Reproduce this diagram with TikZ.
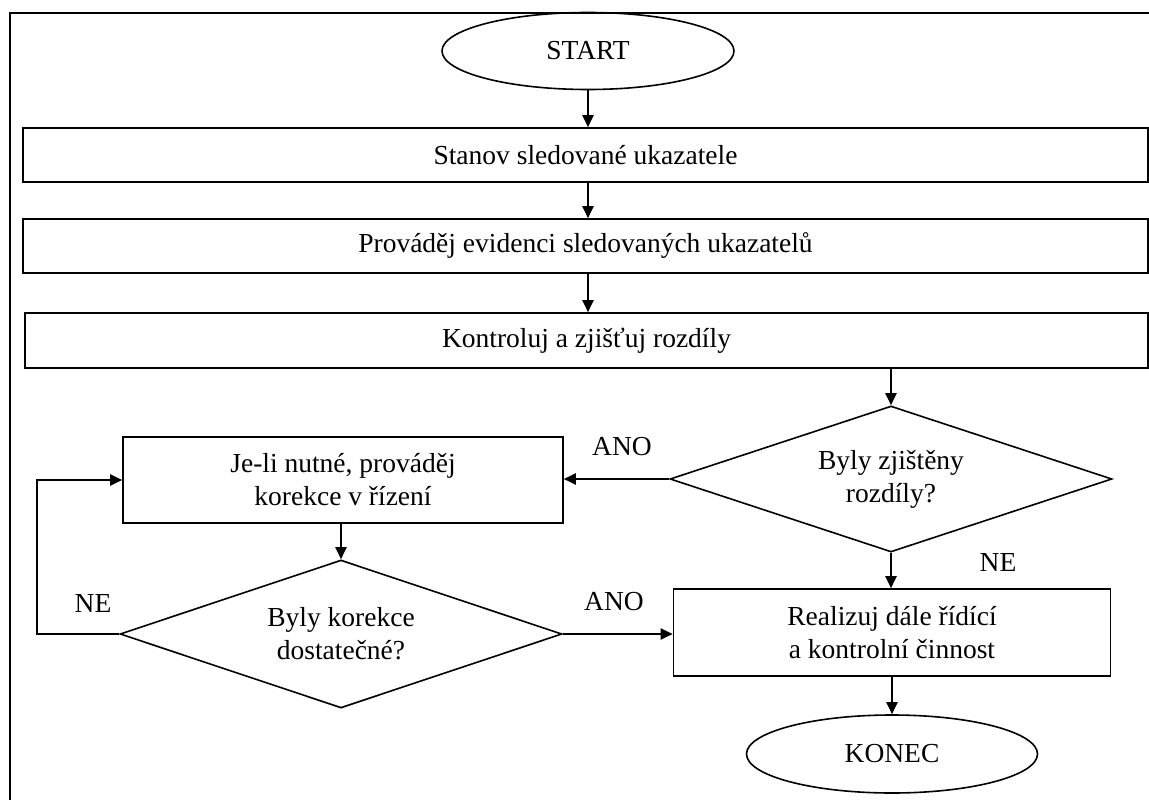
\documentclass[tikz,border=0pt]{standalone}
\usepackage{fontspec}
\setmainfont{Liberation Serif}
\usetikzlibrary{shapes.geometric,arrows.meta,calc}
\begin{document}
\begin{tikzpicture}[x=1pt,y=-1pt,
  every node/.style={font=\fontsize{27.5}{33}\selectfont},
  box/.style={draw,line width=1.6pt,rectangle,inner sep=0pt,align=center},
  term/.style={draw,line width=1.6pt,ellipse,inner sep=0pt},
  dec/.style={draw,line width=1.6pt,diamond,shape aspect=3,inner sep=0pt,align=center},
  arr/.style={line width=2pt,-{Triangle[length=12pt,width=11pt]}},
  lbl/.style={inner sep=0pt}]
\useasboundingbox (0,0) rectangle (1149,800);
\draw[line width=2.6pt] (10,800) -- (10,13) -- (1149,13);

\node[term,minimum width=292pt,minimum height=77pt] (start) at (588,51) {START};
\node[box,minimum width=1125pt,minimum height=54pt] (b1) at (585.5,155) {Stanov sledované ukazatele};
\node[box,minimum width=1125pt,minimum height=54pt] (b2) at (585.5,246) {Prováděj evidenci sledovaných ukazatelů};
\node[box,minimum width=1123pt,minimum height=55pt] (b3) at (586.5,340.5) {Kontroluj a zjišťuj rozdíly};
\node[dec,minimum width=442pt,minimum height=146pt] (d1) at (891,479) {Byly zjištěny\\rozdíly?};
\node[box,minimum width=440pt,minimum height=86pt] (je) at (343,480) {Je-li nutné, prováděj\\korekce v řízení};
\node[dec,minimum width=442pt,minimum height=148pt] (d2) at (341,634) {Byly korekce\\dostatečné?};
\node[box,minimum width=437pt,minimum height=87pt] (re) at (892,632.5) {Realizuj dále řídící\\a kontrolní činnost};
\node[term,minimum width=291pt,minimum height=78pt] (konec) at (892,754) {KONEC};

\node[lbl] (ano1) at (622,447) {ANO};
\node[lbl] (ne1) at (998,562) {NE};
\node[lbl] (ne2) at (93,603) {NE};
\node[lbl] (ano2) at (614,602) {ANO};

\coordinate (lp) at (37,0);

\draw[arr] (start.south) -- (start.south |- b1.north);
\draw[arr] (b1.south -| start) -- (b2.north -| start);
\draw[arr] (b2.south -| start) -- (b3.north -| start);
\draw[arr] (b3.south -| d1) -- (d1.north);
\draw[arr] (d1.west) -- (d1.west -| je.east);
\draw[arr] (d2.north |- je.south) -- (d2.north);
\draw[arr] (d1.south) -- (d1.south |- re.north);
\draw[arr] (d2.east) -- (d2.east -| re.west);
\draw[arr] (d2.west) -- (d2.west -| lp) |- (je.west);
\draw[arr] (re.south) -- (konec.north);
\end{tikzpicture}
\end{document}
